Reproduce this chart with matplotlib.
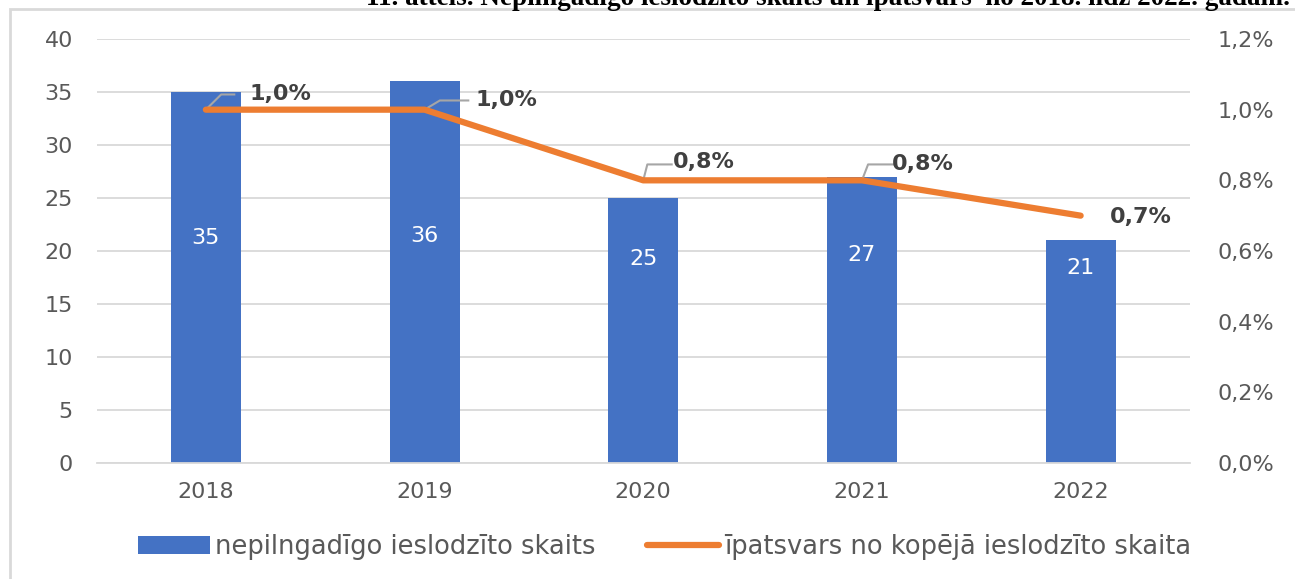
import matplotlib.pyplot as plt
from matplotlib.patches import Rectangle

# Dati
gadi = ["2018", "2019", "2020", "2021", "2022"]
skaits = [35, 36, 25, 27, 21]
ipatsvars = [1.0, 1.0, 0.8, 0.8, 0.7]
ipatsvars_teksts = ["1,0%", "1,0%", "0,8%", "0,8%", "0,7%"]

zils = "#4472C4"
oranzs = "#ED7D31"
pelek = "#595959"

fig = plt.figure(figsize=(12.95, 5.79), dpi=100)

# ramis ap diagrammu
fig.patches.append(Rectangle((10 / 1295, -0.05), 1.1, 1 - 9 / 579 + 0.05,
                             transform=fig.transFigure, fill=False,
                             edgecolor="#d9d9d9", linewidth=2))

# virsraksts (augšā nogriezts kā oriģinālā)
fig.text(1290 / 1295, 1 - 5 / 579,
         "11. attēls. Nepilngadīgo ieslodzīto skaits un īpatsvars  no 2018. līdz 2022. gadam.",
         ha="right", va="baseline", fontsize=19.5, fontweight="bold",
         family="Liberation Serif", color="black")

ax = fig.add_axes([96.5 / 1295, 1 - 463 / 579, (1190 - 96.5) / 1295, (463 - 39) / 579])
x = list(range(len(gadi)))

ax.bar(x, skaits, width=0.32, color=zils, zorder=2, label="nepilngadīgo ieslodzīto skaits")
for i, v in enumerate(skaits):
    ax.text(i, 14.2 + 0.2 * v, str(v), ha="center", va="center",
            color="white", fontsize=16, zorder=3)

ax.set_ylim(0, 40)
ax.set_xlim(-0.5, len(gadi) - 0.5)
ax.set_yticks(range(0, 41, 5))
ax.set_xticks(x)
ax.set_xticklabels(gadi)
ax.grid(axis="y", color="#d9d9d9", linewidth=1.3, zorder=0)
ax.set_axisbelow(True)
for s in ["top", "right", "left"]:
    ax.spines[s].set_visible(False)
ax.spines["bottom"].set_color("#d9d9d9")
ax.spines["bottom"].set_linewidth(1.3)
ax.tick_params(length=0, colors=pelek, labelsize=16)
ax.tick_params(axis="y", pad=17)
ax.tick_params(axis="x", pad=14)

ax2 = ax.twinx()
ax2.plot(x, ipatsvars, color=oranzs, linewidth=4.5, solid_capstyle="round",
         zorder=4, label="īpatsvars no kopējā ieslodzīto skaita")
ax2.set_ylim(0, 1.2)
ax2.set_yticks([0, 0.2, 0.4, 0.6, 0.8, 1.0, 1.2])
ax2.set_yticklabels(["0,0%", "0,2%", "0,4%", "0,6%", "0,8%", "1,0%", "1,2%"])
for s in ax2.spines.values():
    s.set_visible(False)
ax2.tick_params(length=0, colors=pelek, labelsize=16, pad=20)

# datu etiķetes ar vadlīnijām
nobides = [(0.15, 0.043, 0.08), (0.15, 0.026, 0.15), (0.04, 0.045, 0.08), (0.06, 0.045, 0.1), None]
teksta_vieta = [(0.2, 0.043), (0.235, 0.026), (0.135, 0.051), (0.135, 0.047), (0.135, -0.005)]
for i, v in enumerate(ipatsvars):
    if nobides[i] is not None:
        dx, dy, hx = nobides[i]
        ax2.plot([i, i + 0.07 * dx / 0.15, i + hx + 0.05], [v, v + dy, v + dy],
                 color="#a6a6a6", linewidth=1.5, zorder=3)
    tx, ty = teksta_vieta[i]
    ax2.text(i + tx, v + ty, ipatsvars_teksts[i], ha="left", va="center",
             fontsize=16, fontweight="bold", color="#404040", zorder=5)

h1, l1 = ax.get_legend_handles_labels()
h2, l2 = ax2.get_legend_handles_labels()
fig.legend(h1 + h2, l1 + l2, loc="center", bbox_to_anchor=(665 / 1295, 1 - 547 / 579),
           ncol=2, frameon=False, labelcolor=pelek,
           handlelength=2.8, handletextpad=0.2, columnspacing=2.0,
           prop={"family": "DejaVu Sans", "size": 18.5})

fig.savefig("out.png", dpi=100)
